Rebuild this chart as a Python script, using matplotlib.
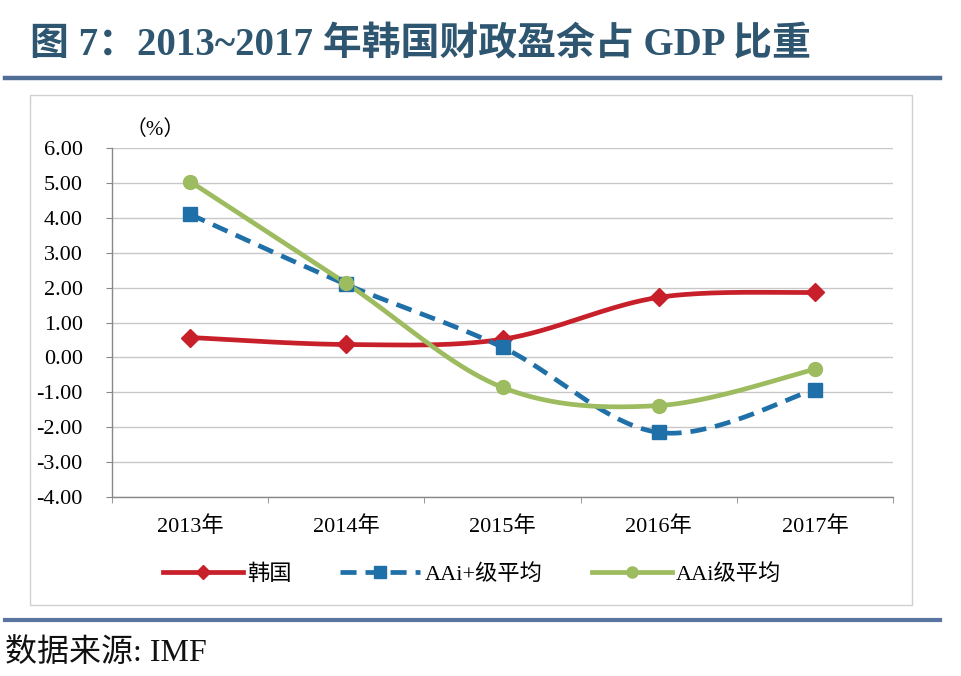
import numpy as np
import matplotlib
matplotlib.use("Agg")
import matplotlib.pyplot as plt
from matplotlib.lines import Line2D
from matplotlib.patches import Rectangle

years = ["2013年", "2014年", "2015年", "2016年", "2017年"]
korea = [0.57, 0.37, 0.52, 1.72, 1.86]
aai_plus = [4.10, 2.09, 0.29, -2.15, -0.92]
aai = [5.04, 2.12, -0.86, -1.38, -0.34]
series_names = ["韩国", "AAi+级平均", "AAi级平均"]
yticks = [6, 5, 4, 3, 2, 1, 0, -1, -2, -3, -4]

SERIF = ["Liberation Serif", "Noto Sans CJK SC"]


def smooth(xs, ys, n=40):
    xs = np.asarray(xs, float)
    ys = np.asarray(ys, float)
    px = np.concatenate([[xs[0]], xs, [xs[-1]]])
    py = np.concatenate([[ys[0]], ys, [ys[-1]]])
    ox, oy = [], []
    t = np.linspace(0, 1, n)
    for i in range(1, len(px) - 2):
        p0 = np.array([px[i - 1], py[i - 1]])
        p1 = np.array([px[i], py[i]])
        p2 = np.array([px[i + 1], py[i + 1]])
        p3 = np.array([px[i + 2], py[i + 2]])
        c1 = p1 + (p2 - p0) / 6
        c2 = p2 - (p3 - p1) / 6
        b = ((1 - t) ** 3)[:, None] * p1 + (3 * (1 - t) ** 2 * t)[:, None] * c1 \
            + (3 * (1 - t) * t ** 2)[:, None] * c2 + (t ** 3)[:, None] * p2
        ox.extend(b[:, 0]); oy.extend(b[:, 1])
    return ox, oy


fig = plt.figure(figsize=(9.62, 6.76), dpi=100)
W, H = 962, 676

# chart frame
fig.add_artist(Rectangle((30 / W, 1 - 605 / H), (912 - 30) / W, (605 - 95) / H,
                         transform=fig.transFigure, fill=False, edgecolor="#D0D0D0", lw=1.0))
# rules
fig.add_artist(Line2D([5 / W, 940 / W], [1 - 78 / H] * 2, transform=fig.transFigure,
                      color="#4F6E96", lw=3.2))
fig.add_artist(Line2D([5 / W, 940 / W], [1 - 620 / H] * 2, transform=fig.transFigure,
                      color="#5A74A0", lw=3.0))

fig.text(30 / W, 1 - 46 / H, "图 7：2013~2017 年韩国财政盈余占 GDP 比重", family=SERIF,
         fontsize=28, fontweight="bold", color="#2E5670", va="center", ha="left")
fig.text(5 / W, 1 - 653 / H, "数据来源: IMF", family=SERIF, fontsize=23,
         color="#111111", va="center", ha="left")

ax = fig.add_axes([112 / W, 1 - 497 / H, (893 - 112) / W, (497 - 148) / H])
x = np.arange(len(years))

styles = [
    dict(data=korea, color="#C8202B", marker="D", ms=9, ls="-"),
    dict(data=aai_plus, color="#1F6FA8", marker="s", ms=10, ls=(0, (3.4, 1.9))),
    dict(data=aai, color="#9DBB5F", marker="o", ms=10, ls="-"),
]
handles = []
for name, st in zip(series_names, styles):
    sx, sy = smooth(x, st["data"])
    ax.plot(sx, sy, color=st["color"], lw=3.4, ls=st["ls"], solid_capstyle="round", zorder=3)
    ax.plot(x, st["data"], ls="none", marker=st["marker"], ms=st["ms"],
            color=st["color"], zorder=4)
    handles.append(Line2D([], [], color=st["color"], lw=3.4, ls=st["ls"],
                          marker=st["marker"], ms=st["ms"] - 2, label=name))

ax.set_xlim(-0.5, len(years) - 0.5)
ax.set_ylim(-4, 6)
ax.set_yticks(yticks)
ax.set_yticklabels([f"{v:.2f}" for v in yticks], family=SERIF, fontsize=16)
ax.set_xticks(x)
ax.set_xticklabels(years, family=SERIF, fontsize=16)
ax.set_xticks(np.arange(-0.5, len(years)), minor=True)
ax.tick_params(axis="x", which="major", length=0, pad=14)
ax.tick_params(axis="x", which="minor", length=4, color="#888888")
ax.tick_params(axis="y", length=4, color="#888888", pad=17)
ax.grid(axis="y", color="#C8C8C8", lw=1.0)
ax.set_axisbelow(True)
for s in ["top", "right"]:
    ax.spines[s].set_visible(False)
for s in ["left", "bottom"]:
    ax.spines[s].set_color("#888888")
    ax.spines[s].set_linewidth(1.0)

fig.text(155 / W, 1 - 130 / H, "（%）", family=SERIF, fontsize=15, ha="center", va="center")

leg = fig.legend(handles=handles, loc="center", bbox_to_anchor=(472 / W, 1 - 574 / H),
                 ncol=3, frameon=False, prop={"family": SERIF, "size": 16},
                 handlelength=3.6, columnspacing=2.2, handletextpad=0.2)

fig.savefig("out.png", dpi=100)
